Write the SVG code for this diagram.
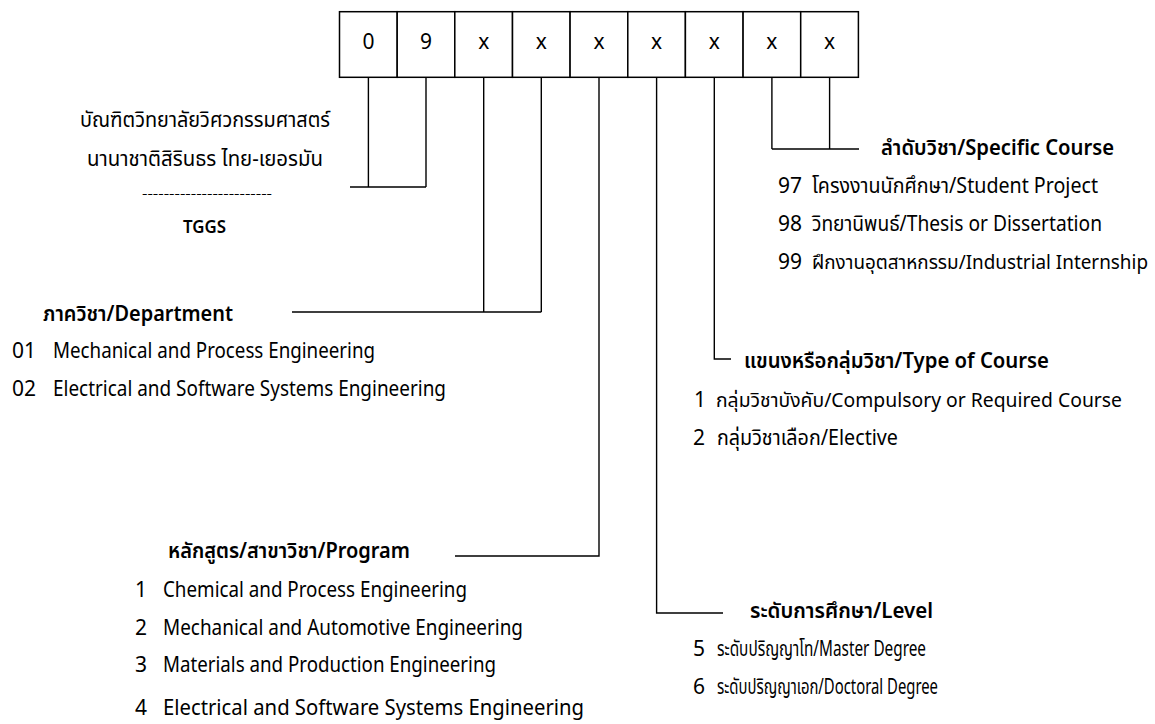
<svg xmlns="http://www.w3.org/2000/svg" width="1155" height="724" viewBox="0 0 1155 724">
<style>
text{font-family:"Noto Sans","Noto Sans Thai","Leelawadee UI",Tahoma,"DejaVu Sans",sans-serif;font-size:21px;fill:#000}
.b{font-weight:600}
.d{font-size:23px}
.s{font-size:19px}
.box{fill:#fff;stroke:#000;stroke-width:1.5}
.c{fill:none;stroke:#000;stroke-width:1.4}
</style>
<rect width="1155" height="724" fill="#fff"/>
<g id="code">
<rect class="box" x="339.5" y="11.7" width="57.7" height="65.6"/>
<rect class="box" x="397.2" y="11.7" width="57.6" height="65.6"/>
<rect class="box" x="454.8" y="11.7" width="57.7" height="65.6"/>
<rect class="box" x="512.5" y="11.7" width="57.6" height="65.6"/>
<rect class="box" x="570.1" y="11.7" width="57.7" height="65.6"/>
<rect class="box" x="627.8" y="11.7" width="57.6" height="65.6"/>
<rect class="box" x="685.4" y="11.7" width="57.7" height="65.6"/>
<rect class="box" x="743.1" y="11.7" width="57.6" height="65.6"/>
<rect class="box" x="800.7" y="11.7" width="57.7" height="65.6"/>
<g text-anchor="middle" class="d">
<text x="368.4" y="49">0</text>
<text x="426" y="49">9</text>
<text x="483.7" y="49">x</text>
<text x="541.3" y="49">x</text>
<text x="599" y="49">x</text>
<text x="656.6" y="49">x</text>
<text x="714.3" y="49">x</text>
<text x="771.9" y="49">x</text>
<text x="829.6" y="49">x</text>
</g>
</g>
<g id="connectors">
<path class="c" d="M368.4 77.3V187M426 77.3V187M350 187H426"/>
<path class="c" d="M483.7 77.3V312M541.3 77.3V312M292 312H541.3"/>
<path class="c" d="M599 77.3V556H455"/>
<path class="c" d="M656.6 77.3V613H723"/>
<path class="c" d="M714.3 77.3V359H731"/>
<path class="c" d="M771.9 77.3V149M829.6 77.3V149M771.9 149H859"/>
</g>
<g id="tggs">
<text x="80" y="127" textLength="250" lengthAdjust="spacingAndGlyphs">บัณฑิตวิทยาลัยวิศวกรรมศาสตร์</text>
<text x="87" y="166" textLength="236" lengthAdjust="spacingAndGlyphs">นานาชาติสิรินธร ไทย-เยอรมัน</text>
<text x="142" y="198" style="font-size:12px" textLength="130" lengthAdjust="spacingAndGlyphs">------------------------</text>
<text x="183" y="233" class="b" style="font-size:17px" textLength="43" lengthAdjust="spacingAndGlyphs">TGGS</text>
</g>
<g id="department">
<text x="43" y="321" class="b" textLength="190" lengthAdjust="spacingAndGlyphs">ภาควิชา/Department</text>
<text x="12" y="358">01</text>
<text x="53" y="358" textLength="322" lengthAdjust="spacingAndGlyphs">Mechanical and Process Engineering</text>
<text x="12" y="396">02</text>
<text x="53" y="396" textLength="393" lengthAdjust="spacingAndGlyphs">Electrical and Software Systems Engineering</text>
</g>
<g id="program">
<text x="168" y="558" class="b" textLength="242" lengthAdjust="spacingAndGlyphs">หลักสูตร/สาขาวิชา/Program</text>
<text x="135" y="597">1</text>
<text x="163" y="597" textLength="304" lengthAdjust="spacingAndGlyphs">Chemical and Process Engineering</text>
<text x="135" y="635">2</text>
<text x="163" y="635" textLength="360" lengthAdjust="spacingAndGlyphs">Mechanical and Automotive Engineering</text>
<text x="135" y="672">3</text>
<text x="163" y="672" textLength="333" lengthAdjust="spacingAndGlyphs">Materials and Production Engineering</text>
<text x="135" y="715">4</text>
<text x="163" y="715" textLength="421" lengthAdjust="spacingAndGlyphs">Electrical and Software Systems Engineering</text>
</g>
<g id="level">
<text x="750" y="618" class="b" textLength="183" lengthAdjust="spacingAndGlyphs">ระดับการศึกษา/Level</text>
<text x="693" y="656">5</text>
<text x="717" y="656" textLength="209" lengthAdjust="spacingAndGlyphs">ระดับปริญญาโท/Master Degree</text>
<text x="693" y="694">6</text>
<text x="717" y="694" textLength="221" lengthAdjust="spacingAndGlyphs">ระดับปริญญาเอก/Doctoral Degree</text>
</g>
<g id="type">
<text x="744" y="368" class="b" textLength="305" lengthAdjust="spacingAndGlyphs">แขนงหรือกลุ่มวิชา/Type of Course</text>
<text x="694" y="407">1</text>
<text x="716" y="407" class="s" textLength="406" lengthAdjust="spacingAndGlyphs">กลุ่มวิชาบังคับ/Compulsory or Required Course</text>
<text x="693" y="445">2</text>
<text x="717" y="445" textLength="181" lengthAdjust="spacingAndGlyphs">กลุ่มวิชาเลือก/Elective</text>
</g>
<g id="specific">
<text x="881" y="155" class="b" textLength="233" lengthAdjust="spacingAndGlyphs">ลำดับวิชา/Specific Course</text>
<text x="778" y="193">97</text>
<text x="812" y="193" textLength="286" lengthAdjust="spacingAndGlyphs">โครงงานนักศึกษา/Student Project</text>
<text x="778" y="231">98</text>
<text x="812" y="231" textLength="290" lengthAdjust="spacingAndGlyphs">วิทยานิพนธ์/Thesis or Dissertation</text>
<text x="778" y="269">99</text>
<text x="812" y="269" class="s" textLength="336" lengthAdjust="spacingAndGlyphs">ฝึกงานอุตสาหกรรม/Industrial Internship</text>
</g>
</svg>
